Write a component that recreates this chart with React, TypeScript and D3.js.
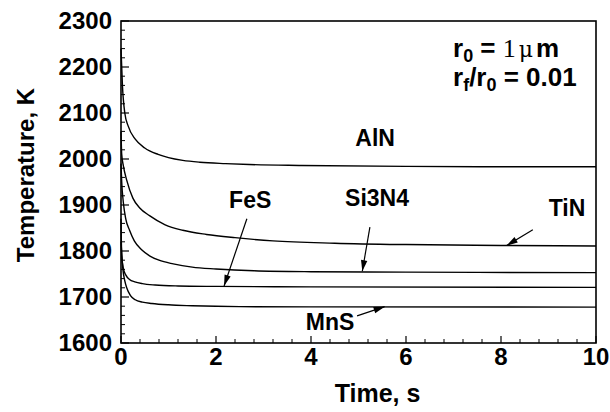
import React from "react";
import * as d3 from "d3";

const W = 610;
const H = 412;
const M = { left: 121, right: 14, top: 21, bottom: 69 };

const xTicks = [0, 2, 4, 6, 8, 10];
const yTicks = [1600, 1700, 1800, 1900, 2000, 2100, 2200, 2300];

const tAlN = [0, 0.03, 0.08, 0.15, 0.3, 0.5, 0.78, 1.0, 1.3, 1.66, 2.2, 2.7, 3.8, 6, 8, 10];
const vAlN = [2240, 2160, 2100, 2072, 2043, 2024, 2010, 2003, 1997, 1993, 1990, 1988, 1986, 1984, 1983, 1983];

const tTiN = [0, 0.015, 0.05, 0.12, 0.25, 0.4, 0.6, 0.93, 1.3, 1.8, 2.4, 3.2, 4.5, 6, 8, 10];
const vTiN = [2060, 2010, 1985, 1954, 1915, 1893, 1877, 1857, 1845, 1836, 1829, 1822, 1817, 1814, 1812, 1811];

const tSi = [0, 0.015, 0.05, 0.1, 0.18, 0.28, 0.44, 0.61, 0.8, 1.1, 1.5, 2.0, 2.8, 4, 6, 10];
const vSi = [1990, 1950, 1905, 1870, 1845, 1822, 1802, 1789, 1780, 1772, 1765, 1761, 1757, 1755, 1754, 1753];

const tFeS = [0, 0.015, 0.05, 0.1, 0.18, 0.29, 0.45, 0.72, 1.2, 2, 4, 10];
const vFeS = [1870, 1790, 1762, 1748, 1738, 1733, 1729, 1726, 1724, 1723, 1722, 1721];

const tMnS = [0, 0.04, 0.08, 0.12, 0.2, 0.3, 0.45, 0.65, 1.0, 1.5, 2.5, 4, 10];
const vMnS = [1820, 1760, 1735, 1720, 1703, 1694, 1689, 1686, 1683, 1681, 1679, 1678.5, 1678];

const seriesT = [tAlN, tTiN, tSi, tFeS, tMnS];
const seriesV = [vAlN, vTiN, vSi, vFeS, vMnS];

const labelText = ["AlN", "TiN", "Si3N4", "FeS", "MnS"];
const labelT = [5.35, 9.39, 5.39, 2.72, 4.4];
const labelV = [2045, 1893, 1915, 1911, 1646];
const arrowFrom: (number[] | null)[] = [null, [8.67, 1846], [5.24, 1852], [2.65, 1870], [4.97, 1659]];
const arrowTo: (number[] | null)[] = [null, [8.12, 1812], [5.08, 1756], [2.17, 1724], [5.55, 1679]];

export default function App() {
  const x = d3.scaleLinear().domain([0, 10]).range([M.left, W - M.right]);
  const y = d3.scaleLinear().domain([1600, 2300]).range([H - M.bottom, M.top]);
  const line = d3
    .line<[number, number]>()
    .x((d) => x(d[0]))
    .y((d) => y(d[1]))
    .curve(d3.curveMonotoneX);

  const xMinor = d3.range(0, 10.001, 0.4).filter((v) => Math.abs(v / 2 - Math.round(v / 2)) > 1e-6);
  const yMinor = d3.range(1600, 2300.1, 20).filter((v) => v % 100 !== 0);

  const font = "'Liberation Sans', Arial, Helvetica, sans-serif";
  const x0 = x(0), x1 = x(10), y0 = y(1600), y1 = y(2300);

  const arrowHead = (fx: number, fy: number, tx: number, ty: number) => {
    const ang = Math.atan2(ty - fy, tx - fx);
    const L = 11, Wd = 3.2;
    const bx = tx - L * Math.cos(ang), by = ty - L * Math.sin(ang);
    const px = -Math.sin(ang) * Wd, py = Math.cos(ang) * Wd;
    return `M${tx},${ty}L${bx + px},${by + py}L${bx - px},${by - py}Z`;
  };

  return (
    <svg width={W} height={H} style={{ display: "block", position: "absolute", left: 0, top: 0, background: "#fff" }}>
      <rect x={0} y={0} width={W} height={H} fill="#fff" />
      {seriesT.map((ts, i) => (
        <path
          key={i}
          d={line(ts.map((t, j) => [t, seriesV[i][j]] as [number, number])) || ""}
          fill="none"
          stroke="#000"
          strokeWidth={1.4}
        />
      ))}
      <rect x={x0} y={y1} width={x1 - x0} height={y0 - y1} fill="none" stroke="#000" strokeWidth={1.6} />
      {xTicks.map((t) => (
        <line key={"xt" + t} x1={x(t)} x2={x(t)} y1={y0} y2={y0 - 7} stroke="#000" strokeWidth={1.2} />
      ))}
      {xMinor.map((t) => (
        <line key={"xm" + t} x1={x(t)} x2={x(t)} y1={y0} y2={y0 - 4} stroke="#000" strokeWidth={1} />
      ))}
      {yTicks.map((v) => (
        <line key={"yt" + v} x1={x0} x2={x0 + 8} y1={y(v)} y2={y(v)} stroke="#000" strokeWidth={1.2} />
      ))}
      {yMinor.map((v) => (
        <line key={"ym" + v} x1={x0} x2={x0 + 4} y1={y(v)} y2={y(v)} stroke="#000" strokeWidth={1} />
      ))}
      {xTicks.map((t) => (
        <text key={"xl" + t} x={x(t)} y={y0 + 22} textAnchor="middle" fontFamily={font} fontWeight="bold" fontSize={24}>
          {t}
        </text>
      ))}
      {yTicks.map((v) => (
        <text key={"yl" + v} x={x0 - 9} y={y(v) + 8} textAnchor="end" fontFamily={font} fontWeight="bold" fontSize={24}>
          {v}
        </text>
      ))}
      <text x={(x0 + x1) / 2 + 19} y={402} textAnchor="middle" fontFamily={font} fontWeight="bold" fontSize={25}>
        Time, s
      </text>
      <text
        transform={`translate(34,${(y0 + y1) / 2 - 7}) rotate(-90)`}
        textAnchor="middle"
        fontFamily={font}
        fontWeight="bold"
        fontSize={24}
      >
        Temperature, K
      </text>
      {labelText.map((s, i) => (
        <text key={"lb" + i} x={x(labelT[i])} y={y(labelV[i]) + 8} textAnchor="middle" fontFamily={font} fontWeight="bold" fontSize={23}>
          {s}
        </text>
      ))}
      {labelText.map((s, i) => {
        const f = arrowFrom[i], to = arrowTo[i];
        if (!f || !to) return null;
        const fx = x(f[0]), fy = y(f[1]), tx = x(to[0]), ty = y(to[1]);
        return (
          <g key={"ar" + i}>
            <line x1={fx} y1={fy} x2={tx} y2={ty} stroke="#000" strokeWidth={1.2} />
            <path d={arrowHead(fx, fy, tx, ty)} fill="#000" />
          </g>
        );
      })}
      <text x={453} y={57} fontFamily={font} fontWeight="bold" fontSize={26}>
        r<tspan fontSize={18} dy={5}>0</tspan>
        <tspan dy={-5}> = </tspan>
        <tspan fontFamily="'Liberation Serif', 'Times New Roman', serif" fontWeight="normal">1</tspan>
        <tspan dx={3} fontFamily="'DejaVu Serif', serif" fontWeight="normal" fontSize={22}>μ</tspan>
        <tspan dx={3}>m</tspan>
      </text>
      <text x={453} y={86} fontFamily={font} fontWeight="bold" fontSize={26}>
        r<tspan fontSize={18} dy={5}>f</tspan>
        <tspan dy={-5}>/r</tspan>
        <tspan fontSize={18} dy={5}>0</tspan>
        <tspan dy={-5}> = 0.01</tspan>
      </text>
    </svg>
  );
}
